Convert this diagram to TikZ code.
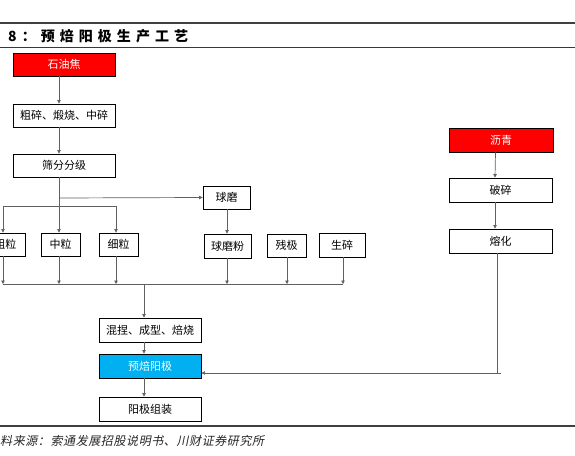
\documentclass[tikz,border=0pt]{standalone}
\usepackage{fontspec}
\setmainfont{Noto Sans CJK SC}
\newfontfamily\titlefont[LetterSpace=36]{Noto Sans CJK SC}
\newfontfamily\srcfont[FakeSlant=0.2,LetterSpace=5]{Noto Sans CJK SC}
\usetikzlibrary{arrows.meta}
\definecolor{boxred}{HTML}{FF0000}
\definecolor{boxcyan}{HTML}{00B0F0}
\definecolor{rulered}{HTML}{C00000}
\definecolor{rulegray}{HTML}{404040}
\definecolor{conn}{HTML}{606060}
\tikzset{
  stepbox/.style={draw=black,line width=0.9pt,inner sep=0pt,minimum height=23,
    font=\fontsize{11}{13}\selectfont,fill=white},
  redbox/.style={stepbox,fill=boxred,text=white},
  cyanbox/.style={stepbox,fill=boxcyan,text=white},
  conline/.style={draw=conn,line width=0.7pt},
  conarrow/.style={conline,-{Triangle[length=3.5pt,width=3.5pt]}},
}
\begin{document}
\begin{tikzpicture}[x=1pt,y=-1pt]
\useasboundingbox (0,0) rectangle (575,455);
\clip (0,0) rectangle (575,455);
\fill[white] (0,0) rectangle (575,455);
% rules
\draw[rulegray,line width=1.3pt] (0,23) -- (575,23);
\draw[rulered,line width=1pt] (0,47) -- (575,47);
\draw[rulegray,line width=1.2pt] (0,426) -- (575,426);
% title and source
\node[anchor=west,inner sep=0pt,font=\titlefont\bfseries\fontsize{14}{16}\selectfont] (title) at (8,36) {8：预焙阳极生产工艺};
\node[anchor=west,inner sep=0pt,font=\srcfont\fontsize{12}{14}\selectfont,text=black!85] (src) at (0,441) {料来源：索通发展招股说明书、川财证券研究所};
% boxes
\node[redbox,minimum width=102] (shiyou) at (64,64.5) {石油焦};
\node[stepbox,minimum width=102] (cusui) at (64,115.5) {粗碎、煅烧、中碎};
\node[stepbox,minimum width=102] (shaifen) at (64,165.5) {筛分分级};
\node[stepbox,minimum width=47] (qiumo) at (226.5,197.5) {球磨};
\node[stepbox,minimum width=39] (cu) at (5.5,244.5) {粗粒};
\node[stepbox,minimum width=39] (zhong) at (60.5,244.5) {中粒};
\node[stepbox,minimum width=39] (xi) at (118.5,244.5) {细粒};
\node[stepbox,minimum width=47,minimum height=24] (qmf) at (227.5,246) {球磨粉};
\node[stepbox,minimum width=39] (canji) at (286.5,245.5) {残极};
\node[stepbox,minimum width=46,minimum height=24] (shengsui) at (342,245) {生碎};
\node[stepbox,minimum width=102,minimum height=24] (hunnie) at (150,330) {混捏、成型、焙烧};
\node[cyanbox,minimum width=102,minimum height=24] (yubei) at (150,366) {预焙阳极};
\node[stepbox,minimum width=102,minimum height=24] (zuzhuang) at (150,409) {阳极组装};
\node[redbox,minimum width=104,minimum height=24] (liqing) at (501,140) {沥青};
\node[stepbox,minimum width=103,minimum height=24] (posui) at (500.5,190) {破碎};
\node[stepbox,minimum width=103,minimum height=24] (ronghua) at (500.5,241) {熔化};
% junction coordinates
\coordinate (j1) at (59,206);
\coordinate (j2) at (59,198);
\coordinate (bl) at (3,206);
\coordinate (br) at (116,206);
\coordinate (cl) at (3,284);
\coordinate (cr) at (343,284);
\coordinate (cm) at (144,284);
\coordinate (qx) at (227,284);
\coordinate (kx) at (287,284);
\coordinate (rc) at (497,373);
\coordinate (rcs) at (501,373);
% connectors
\draw[conarrow] ([xshift=-5]shiyou.south) -- ([xshift=-5]cusui.north);
\draw[conarrow] ([xshift=-5]cusui.south) -- ([xshift=-5]shaifen.north);
\draw[conline] ([xshift=-5]shaifen.south) -- (j1);
\draw[conarrow] (j2) -- (qiumo.west);
\draw[conline] (bl) -- (br);
\draw[conarrow] (bl) -- (bl |- cu.north);
\draw[conarrow] (j1) -- (j1 |- zhong.north);
\draw[conarrow] (br) -- (br |- xi.north);
\draw[conarrow] (qx |- qiumo.south) -- (qx |- qmf.north);
\draw[conarrow] (cu.south -| bl) -- (cl);
\draw[conarrow] (zhong.south -| j1) -- (j1 |- cl);
\draw[conarrow] (xi.south -| br) -- (br |- cl);
\draw[conarrow] (qmf.south -| qx) -- (qx);
\draw[conarrow] (canji.south -| kx) -- (kx);
\draw[conarrow] (shengsui.south -| cr) -- (cr);
\draw[conline] (cl) -- (cr);
\draw[conarrow] (cm) -- (cm |- hunnie.north);
\draw[conarrow] (hunnie.south -| cm) -- (yubei.north -| cm);
\draw[conarrow] (yubei.south -| cm) -- (zuzhuang.north -| cm);
\draw[conarrow] ([xshift=-5.5]liqing.south) -- ([xshift=-5.5]posui.north);
\draw[conarrow] ([xshift=-5.5]posui.south) -- ([xshift=-5.5]ronghua.north);
\draw[conline] ([xshift=-3.5]ronghua.south) -- (rc) -- (rcs);
\draw[conarrow] (rc) -- (yubei.east |- rc);
\end{tikzpicture}
\end{document}
